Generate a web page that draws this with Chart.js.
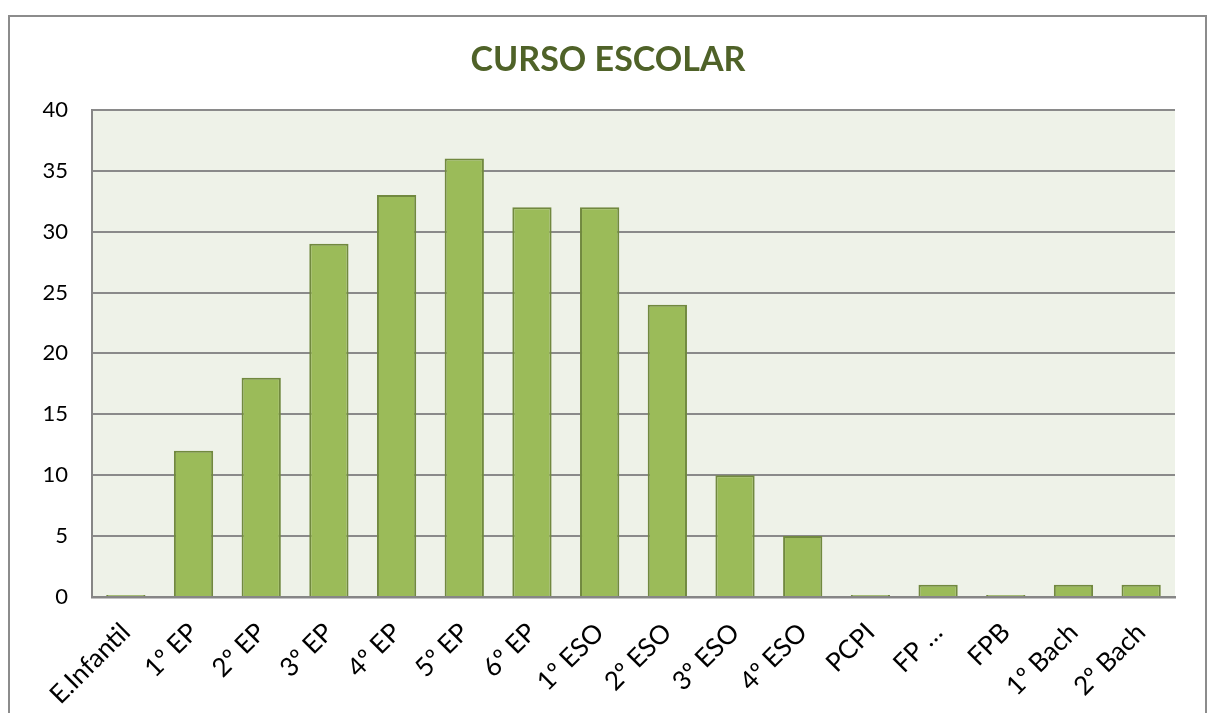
<!DOCTYPE html>
<html>
<head>
<meta charset="utf-8">
<script src="https://cdn.jsdelivr.net/npm/chart.js@4/dist/chart.umd.min.js"></script>
<style>
  html, body { margin: 0; padding: 0; background: #fff; }
  #marco { position: absolute; left: 8px; top: 15px; width: 1199px; height: 720px; border: 2px solid #8c8c8c; box-sizing: border-box; }
  #wrap { position: absolute; left: 0; top: 0; width: 1216px; height: 713px; }
</style>
</head>
<body>
<div id="marco"></div>
<div id="wrap"><canvas id="grafico" width="1216" height="713"></canvas></div>
<script>
// datos del grafico
const cursos = ['E.Infantil', '1º EP', '2º EP', '3º EP', '4º EP', '5º EP', '6º EP', '1º ESO', '2º ESO', '3º ESO', '4º ESO', 'PCPI', 'FP …', 'FPB', '1º Bach', '2º Bach'];
const alumnos = [0, 12, 18, 29, 33, 36, 32, 32, 24, 10, 5, 0, 1, 0, 1, 1];
const ticksY = [0, 5, 10, 15, 20, 25, 30, 35, 40];

const fuente = 'Lato, "Open Sans", sans-serif';

// fondo del area de trazado
const fondoPlot = {
  id: 'fondoPlot',
  beforeDraw(chart) {
    const a = chart.chartArea;
    const ctx = chart.ctx;
    ctx.save();
    ctx.fillStyle = '#eef2e8';
    ctx.fillRect(a.left, a.top, a.right - a.left, a.bottom - a.top);
    ctx.restore();
  }
};

new Chart(document.getElementById('grafico'), {
  type: 'bar',
  data: {
    labels: cursos,
    datasets: [{
      label: 'Curso escolar',
      data: alumnos,
      backgroundColor: '#9bbb59',
      borderColor: '#71893f',
      borderWidth: 2,
      barPercentage: 0.58,
      categoryPercentage: 1,
      minBarLength: 2
    }]
  },
  options: {
    responsive: false,
    animation: false,
    layout: { padding: 0 },
    plugins: {
      legend: { display: false },
      tooltip: { enabled: false },
      title: {
        display: true,
        text: 'CURSO ESCOLAR',
        color: '#4f6228',
        font: { family: fuente, size: 34, weight: 'bold' },
        padding: { top: 40, bottom: 29 }
      }
    },
    scales: {
      x: {
        grid: { display: false, drawTicks: false },
        border: { color: '#868686', width: 2.5 },
        ticks: {
          color: '#000',
          font: { family: fuente, size: 26 },
          minRotation: 45,
          maxRotation: 45,
          autoSkip: false,
          padding: 20
        },
        afterFit: s => { s.height = 116; }
      },
      y: {
        min: 0,
        max: 40,
        afterBuildTicks: s => { s.ticks = ticksY.map(v => ({ value: v })); },
        grid: { color: '#8a8a8a', lineWidth: 2, drawTicks: false },
        border: { color: '#868686', width: 2 },
        ticks: {
          color: '#000',
          font: { family: fuente, size: 22 },
          padding: 24
        },
        afterFit: s => { s.width = 92; }
      },
      // eje vacio a la derecha, solo para dejar el margen
      margenDer: {
        type: 'linear',
        position: 'right',
        grid: { display: false, drawTicks: false },
        border: { display: false },
        ticks: { display: false },
        afterFit: s => { s.width = 41; }
      }
    }
  },
  plugins: [fondoPlot]
});
</script>
</body>
</html>
